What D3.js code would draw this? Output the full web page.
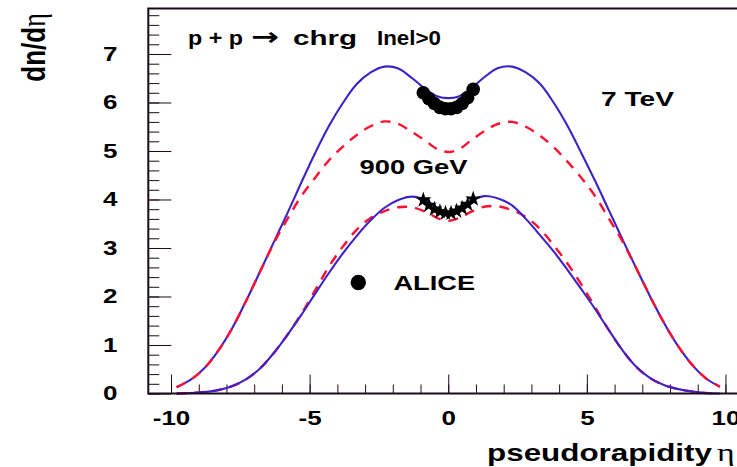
<!DOCTYPE html>
<html>
<head>
<meta charset="utf-8">
<script src="https://cdn.jsdelivr.net/npm/d3@7"></script>
<style>
  html, body { margin: 0; padding: 0; background: #fff; }
  svg { display: block; }
</style>
</head>
<body>
<svg id="chart" width="737" height="467"></svg>
<script>
// pseudorapidity grid shared by the model curves
const eta = [-9.8, -9.3, -8.8, -8.3, -7.8, -7.3, -6.8, -6.3, -5.8, -5.3, -4.8, -4.3, -3.8, -3.3, -2.8, -2.3, -1.8, -1.3, -0.8, -0.4, 0,
             0.4, 0.8, 1.3, 1.8, 2.3, 2.8, 3.3, 3.8, 4.3, 4.8, 5.3, 5.8, 6.3, 6.8, 7.3, 7.8, 8.3, 8.8, 9.3, 9.8];

// 7 TeV model curves
const tev7Solid = [0.13, 0.28, 0.52, 0.88, 1.34, 1.90, 2.50, 3.11, 3.72, 4.35, 4.96, 5.52, 5.99, 6.38, 6.62, 6.74, 6.70, 6.50, 6.27, 6.13, 6.09,
                   6.13, 6.28, 6.52, 6.71, 6.74, 6.62, 6.39, 6.00, 5.52, 4.96, 4.38, 3.77, 3.16, 2.56, 1.98, 1.44, 0.97, 0.59, 0.31, 0.14];
const tev7Dashed = [0.13, 0.28, 0.52, 0.88, 1.34, 1.90, 2.50, 3.09, 3.60, 4.07, 4.45, 4.81, 5.09, 5.33, 5.51, 5.61, 5.56, 5.39, 5.20, 5.04, 4.98,
                    5.04, 5.21, 5.41, 5.56, 5.60, 5.50, 5.32, 5.08, 4.78, 4.45, 4.07, 3.60, 3.12, 2.56, 1.98, 1.44, 0.97, 0.59, 0.31, 0.14];

// 900 GeV model curves
const gev900Solid = [0.00, 0.01, 0.03, 0.07, 0.15, 0.29, 0.51, 0.83, 1.21, 1.62, 2.06, 2.49, 2.89, 3.25, 3.57, 3.83, 3.99, 4.06, 3.98, 3.83, 3.75,
                     3.82, 3.97, 4.07, 4.02, 3.88, 3.60, 3.27, 2.93, 2.55, 2.15, 1.74, 1.30, 0.88, 0.54, 0.31, 0.17, 0.09, 0.04, 0.01, 0.00];
const gev900Dashed = [0.00, 0.01, 0.03, 0.07, 0.15, 0.29, 0.51, 0.83, 1.21, 1.64, 2.13, 2.62, 3.03, 3.38, 3.62, 3.76, 3.84, 3.84, 3.74, 3.62, 3.56,
                      3.62, 3.74, 3.85, 3.86, 3.78, 3.64, 3.40, 3.06, 2.68, 2.25, 1.78, 1.30, 0.88, 0.54, 0.31, 0.17, 0.09, 0.04, 0.01, 0.00];

// ALICE measurements, |eta| < 1
const aliceEta = [-0.9, -0.7, -0.5, -0.3, -0.1, 0.1, 0.3, 0.5, 0.7, 0.9];
const alice7 = [6.20, 6.08, 5.98, 5.90, 5.87, 5.87, 5.90, 5.98, 6.10, 6.27];
const alice900 = [3.99, 3.88, 3.80, 3.75, 3.72, 3.72, 3.76, 3.82, 3.90, 4.01];
const aliceErr = 0.10;

// axis ticks
const xMajor = [-10, -5, 0, 5, 10];
const xMinor = d3.range(-10, 11, 1);
const yMajor = [0, 1, 2, 3, 4, 5, 6, 7];
const yMinor = d3.range(0, 7.95, 0.2);

const SX = 1.3;          // wide glyph aspect of the labels
const BLUE = "#4020c8";
const RED = "#ff1030";
const INK = "#1c0a1c";
const SANS = "'Liberation Sans', Arial, Helvetica, sans-serif";
const SERIF = "'Liberation Serif', 'DejaVu Serif', serif";

const svg = d3.select("#chart");
const x = d3.scaleLinear().domain([-10.82, 10.82]).range([148.3, 748.2]);
const y = d3.scaleLinear().domain([0, 7.94]).range([393.5, 8.4]);
const [x0] = x.range();
const [yb, yt] = y.range();

// ticks
const xMinorAxis = d3.axisBottom(x).tickValues(xMinor).tickSize(-9).tickFormat("");
const xMajorAxis = d3.axisBottom(x).tickValues(xMajor).tickSize(-19).tickPadding(17.5).tickFormat(d => String(d));
const yMinorAxis = d3.axisLeft(y).tickValues(yMinor).tickSize(-11).tickFormat("");
const yMajorAxis = d3.axisLeft(y).tickValues(yMajor).tickSize(-23).tickPadding(0).tickFormat(d => String(d));

function styleAxis(g) {
  g.select(".domain").remove();
  g.selectAll(".tick line").attr("stroke", INK).attr("stroke-width", 1);
}
svg.append("g").attr("transform", `translate(0,${yb})`).call(xMinorAxis).call(styleAxis);
const gx = svg.append("g").attr("transform", `translate(0,${yb})`).call(xMajorAxis).call(styleAxis);
svg.append("g").attr("transform", `translate(${x0},0)`).call(yMinorAxis).call(styleAxis);
const gy = svg.append("g").attr("transform", `translate(${x0},0)`).call(yMajorAxis).call(styleAxis);

function tickText(sel) {
  sel.style("font-family", SANS).style("font-weight", "bold")
     .style("font-size", "20px").attr("fill", "#000")
     .attr("transform", `scale(${SX},1)`);
}
gx.selectAll(".tick text").call(tickText);
gy.selectAll(".tick text").call(tickText).attr("x", -30.8 / SX);

// model curves
const line = vals => d3.line()
  .x((d, i) => x(eta[i]))
  .y(d => y(d))
  .curve(d3.curveCatmullRom.alpha(0.5))(vals);

const curves = svg.append("g").attr("fill", "none");
curves.append("path").attr("d", line(gev900Dashed)).attr("stroke", RED).attr("stroke-width", 2.4).attr("stroke-dasharray", "10,8");
curves.append("path").attr("d", line(gev900Solid)).attr("stroke", BLUE).attr("stroke-width", 2.1);
curves.append("path").attr("d", line(tev7Solid)).attr("stroke", BLUE).attr("stroke-width", 2.1);
curves.append("path").attr("d", line(tev7Dashed)).attr("stroke", RED).attr("stroke-width", 2.4).attr("stroke-dasharray", "10,8");

// ALICE points
const pts = svg.append("g");
pts.selectAll("line.err7").data(alice7).join("line")
  .attr("x1", (d, i) => x(aliceEta[i])).attr("x2", (d, i) => x(aliceEta[i]))
  .attr("y1", d => y(d - aliceErr)).attr("y2", d => y(d + aliceErr))
  .attr("stroke", "#000").attr("stroke-width", 1.2);
pts.selectAll("circle.p7").data(alice7).join("circle")
  .attr("cx", (d, i) => x(aliceEta[i])).attr("cy", d => y(d)).attr("r", 6.8).attr("fill", "#000");
const star = d3.symbol().type(d3.symbolStar).size(80);
pts.selectAll("path.p900").data(alice900).join("path")
  .attr("d", star)
  .attr("transform", (d, i) => `translate(${x(aliceEta[i])},${y(d)})`)
  .attr("fill", "#000");

// frame
svg.append("path")
  .attr("d", `M${x(10.82)},${yt}H${x0}V${yb}H${x(10.82)}`)
  .attr("fill", "none").attr("stroke", INK).attr("stroke-width", 2);

// labels
function label(str, left, base, width, size, family = SANS, weight = "bold") {
  return svg.append("text")
    .attr("x", left).attr("y", base)
    .style("font-family", family).style("font-weight", weight)
    .style("font-size", size + "px").attr("fill", "#000")
    .attr("textLength", width).attr("lengthAdjust", "spacingAndGlyphs")
    .text(str);
}
label("p + p", 188, 45, 55, 21);
label("\u2192", 251, 45, 28, 24, "'DejaVu Sans', sans-serif", "bold");
label("chrg", 293, 45, 64, 21);
label("Inel>0", 377, 45, 64, 21);
label("7 TeV", 601, 106, 73, 21);
label("900 GeV", 359.5, 173.5, 108, 21);
label("ALICE", 393.5, 290, 81.5, 21);
svg.append("circle").attr("cx", 358.3).attr("cy", 282.5).attr("r", 7.7).attr("fill", "#000");

label("pseudorapidity", 487, 461, 225, 24);
svg.append("text")
  .attr("transform", `translate(717,461) scale(${SX},1)`)
  .style("font-family", SERIF).style("font-weight", "normal").style("font-size", "26px")
  .attr("fill", "#000")
  .text("\u03b7");

// y-axis title, rotated
const yTitle = svg.append("text")
  .attr("transform", `translate(44.5,47.5) rotate(-90) scale(1,${SX})`)
  .attr("text-anchor", "middle")
  .style("font-family", SANS).style("font-weight", "bold").style("font-size", "26px")
  .attr("fill", "#000");
yTitle.append("tspan").text("dn/d");
yTitle.append("tspan")
  .style("font-family", SERIF).style("font-weight", "normal")
  .text("\u03b7");
</script>
</body>
</html>
